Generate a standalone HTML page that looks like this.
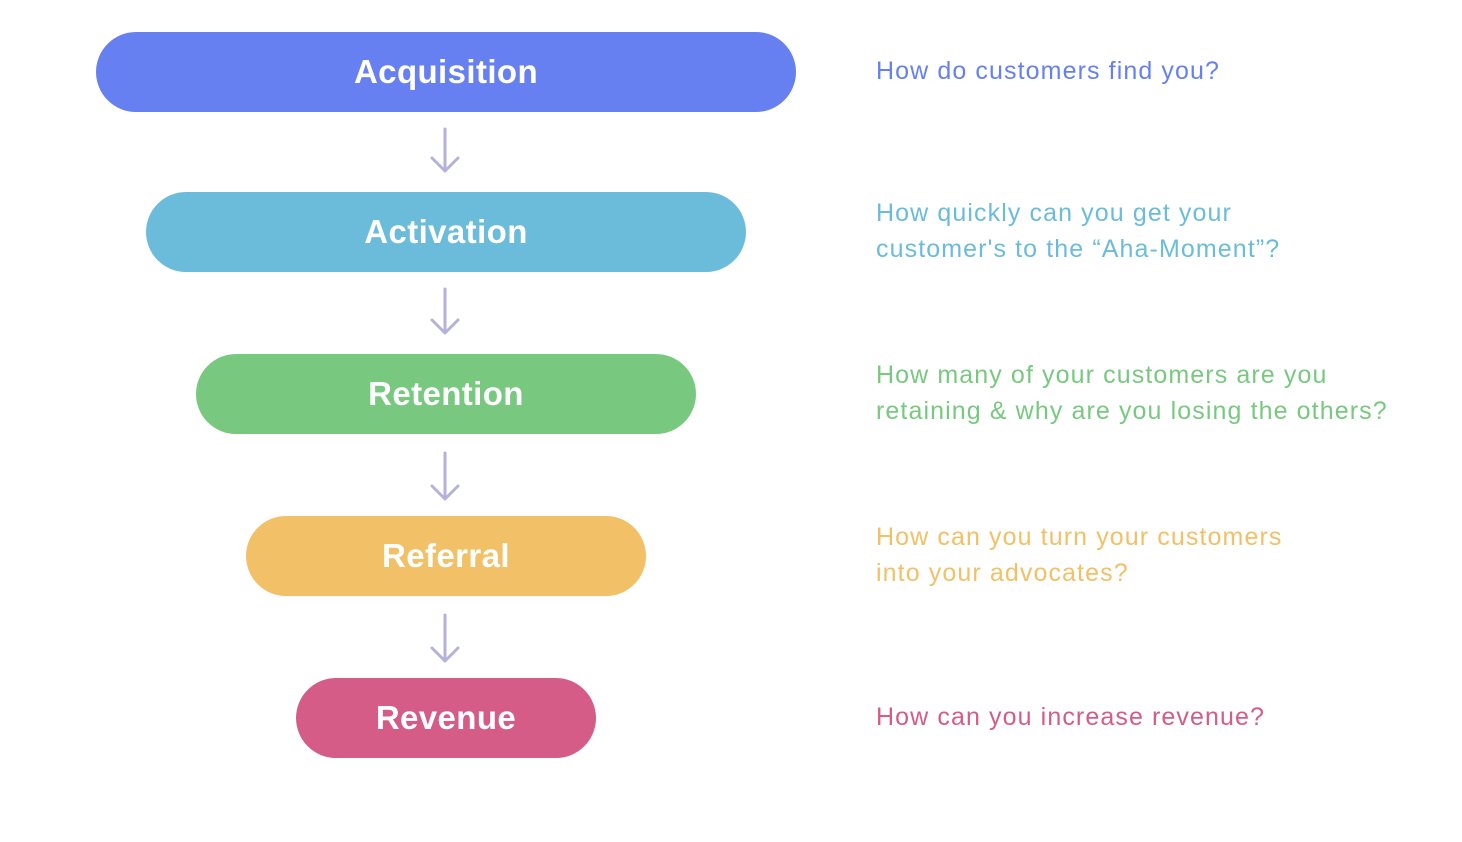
<!DOCTYPE html>
<html><head><meta charset="utf-8"><style>
html,body{margin:0;padding:0;background:#fff;}
body{width:1462px;height:842px;position:relative;overflow:hidden;font-family:"Liberation Sans",sans-serif;}
.p{position:absolute;height:80px;border-radius:40px;color:#fff;font-weight:bold;font-size:33px;letter-spacing:0.4px;display:flex;align-items:center;justify-content:center;}
.t{position:absolute;left:876px;font-size:25px;line-height:36px;letter-spacing:1.1px;}
svg{position:absolute;left:0;top:0;}
</style></head><body>
<div class="p" style="left:96px;top:32px;width:700px;background:#6680f2;">Acquisition</div>
<div class="p" style="left:146px;top:192px;width:600px;background:#6bbcdb;">Activation</div>
<div class="p" style="left:196px;top:354px;width:500px;background:#78c97f;">Retention</div>
<div class="p" style="left:246px;top:516px;width:400px;background:#f2c066;">Referral</div>
<div class="p" style="left:296px;top:678px;width:300px;background:#d45c87;">Revenue</div>
<svg width="1462" height="842" fill="none" stroke="#b4b2dc" stroke-width="3" stroke-linecap="round" stroke-linejoin="round">
<path d="M445 129V171M432 158L445 171L458 158"/>
<path d="M445 289V333M432 320L445 333L458 320"/>
<path d="M445 453V499M432 486L445 499L458 486"/>
<path d="M445 615V661M432 648L445 661L458 648"/>
</svg>
<div class="t" style="top:53px;color:#6680f2;">How do customers find you?</div>
<div class="t" style="top:195px;color:#6bbcdb;">How quickly can you get your<br>customer's to the “Aha-Moment”?</div>
<div class="t" style="top:357px;color:#78c97f;">How many of your customers are you<br>retaining &amp; why are you losing the others?</div>
<div class="t" style="top:519px;color:#f2c066;">How can you turn your customers<br>into your advocates?</div>
<div class="t" style="top:699px;color:#d45c87;">How can you increase revenue?</div>
</body></html>
